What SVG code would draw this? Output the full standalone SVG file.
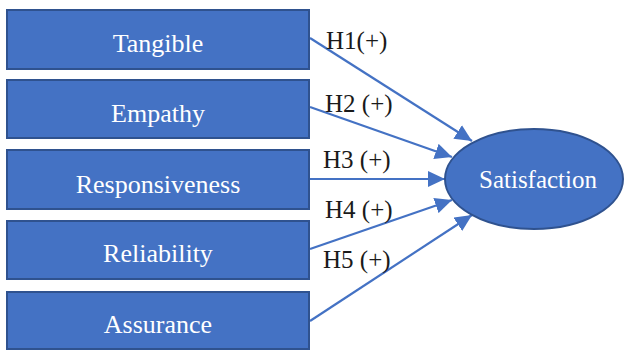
<svg xmlns="http://www.w3.org/2000/svg" width="624" height="350" viewBox="0 0 624 350">
<defs>
<style>
.box{fill:#4472C4;stroke:#2F528F;stroke-width:2}
.bt{font-family:'Liberation Serif','Times New Roman',Times,serif;font-size:26px;fill:#ffffff;text-anchor:middle}
.lbl{font-family:'Liberation Serif','Times New Roman',Times,serif;font-size:25px;fill:#1a1a1a}
.con{stroke:#4472C4;stroke-width:2.2;fill:none;marker-end:url(#ah)}
</style>
<marker id="ah" markerUnits="userSpaceOnUse" markerWidth="18" markerHeight="16" refX="17" refY="8" orient="auto">
<path d="M0,0 L17,8 L0,16 Z" fill="#4472C4"/>
</marker>
</defs>
<g id="connectors">
<line class="con" x1="310" y1="38" x2="472" y2="141"/>
<line class="con" x1="310" y1="107" x2="452" y2="157"/>
<line class="con" x1="310" y1="179" x2="445" y2="179"/>
<line class="con" x1="310" y1="249" x2="452" y2="200"/>
<line class="con" x1="310" y1="321" x2="472" y2="215"/>
</g>
<g id="labels">
<text class="lbl" x="326" y="49">H1(+)</text>
<text class="lbl" x="325" y="112">H2 (+)</text>
<text class="lbl" x="323" y="168">H3 (+)</text>
<text class="lbl" x="325" y="218">H4 (+)</text>
<text class="lbl" x="323" y="268">H5 (+)</text>
</g>
<g id="tangible"><rect class="box" x="7" y="10" width="302" height="59"/><text class="bt" x="158" y="52">Tangible</text></g>
<g id="empathy"><rect class="box" x="7" y="80" width="302" height="58"/><text class="bt" x="158" y="122">Empathy</text></g>
<g id="responsiveness"><rect class="box" x="7" y="150" width="302" height="59"/><text class="bt" x="158" y="193">Responsiveness</text></g>
<g id="reliability"><rect class="box" x="7" y="221" width="302" height="58"/><text class="bt" x="158" y="262">Reliability</text></g>
<g id="assurance"><rect class="box" x="7" y="292" width="302" height="57"/><text class="bt" x="158" y="333">Assurance</text></g>
<g id="satisfaction"><ellipse cx="534" cy="179" rx="89" ry="50" fill="#4472C4" stroke="#2F528F" stroke-width="2"/><text class="bt" x="538" y="188" style="font-size:25px">Satisfaction</text></g>
</svg>
